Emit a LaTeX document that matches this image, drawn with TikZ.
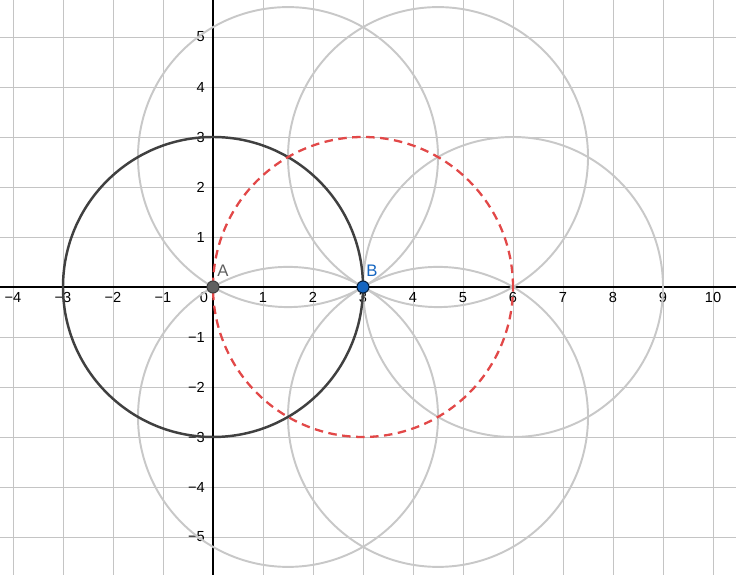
\documentclass[tikz,border=0pt]{standalone}
\usepackage{fontspec}
\setmainfont{Liberation Sans}
\definecolor{gridc}{RGB}{196,196,196}
\definecolor{circg}{RGB}{200,200,200}
\definecolor{circk}{RGB}{64,64,64}
\definecolor{circr}{RGB}{226,72,72}
\definecolor{ptA}{RGB}{96,96,96}
\definecolor{ptB}{RGB}{21,101,192}
\begin{document}
\begin{tikzpicture}[x=1cm,y=1cm,
  gridline/.style={draw=gridc,line width=0.5pt},
  axisline/.style={draw=black,line width=0.75pt},
  graycirc/.style={draw=circg,line width=1.1pt},
  blackcirc/.style={draw=circk,line width=1.4pt},
  redcirc/.style={draw=circr,line width=1.3pt,dash pattern=on 0.17cm off 0.11cm},
  xlab/.style={font=\fontsize{8.3}{9}\selectfont,text=black,inner sep=0pt},
  ylab/.style={font=\fontsize{8.3}{9}\selectfont,text=black,inner sep=0pt,anchor=east},
  ptstyle/.style={circle,inner sep=0pt,minimum size=0.24cm,line width=0.6pt}]
\useasboundingbox (-4.26,-5.76) rectangle (10.46,5.74);
\fill[white] (-4.26,-5.76) rectangle (10.46,5.74);
% grid
\foreach \x in {-4,...,10} {\draw[gridline] (\x,-5.76) -- (\x,5.74);}
\foreach \y in {-5,...,5} {\draw[gridline] (-4.26,\y) -- (10.46,\y);}
% axes
\draw[axisline] (-4.26,0) -- (10.46,0);
\draw[axisline] (0,-5.76) -- (0,5.74);
% tick labels
\foreach \x in {-4,-3,-2,-1,1,2,3,4,5,6,7,8,9,10} {\node[xlab] at (\x,-0.21) {\ifnum\x<0 −\number-\x\else\x\fi};}
\node[xlab] at (-0.18,-0.21) {0};
\foreach \y in {-5,-4,-3,-2,-1,1,2,3,4,5} {\node[ylab] at (-0.16,\y) {\ifnum\y<0 −\number-\y\else\y\fi};}
% circles
\draw[graycirc] (1.5,2.598) circle (3);
\draw[graycirc] (4.5,2.598) circle (3);
\draw[graycirc] (6,0) circle (3);
\draw[graycirc] (1.5,-2.598) circle (3);
\draw[graycirc] (4.5,-2.598) circle (3);
\draw[blackcirc] (0,0) circle (3);
\draw[redcirc] (3,0) circle (3);
% points
\node[ptstyle,fill=ptA,draw=black!75] (A) at (0,0) {};
\node[ptstyle,fill=ptB,draw=black!70!ptB] (B) at (3,0) {};
\node[font=\fontsize{9.5}{10}\selectfont,text=ptA,inner sep=0pt,anchor=south west] (Alab) at (0.08,0.2) {A};
\node[font=\fontsize{9.5}{10}\selectfont,text=ptB,inner sep=0pt,anchor=south west] (Blab) at (3.06,0.2) {B};
\end{tikzpicture}
\end{document}
